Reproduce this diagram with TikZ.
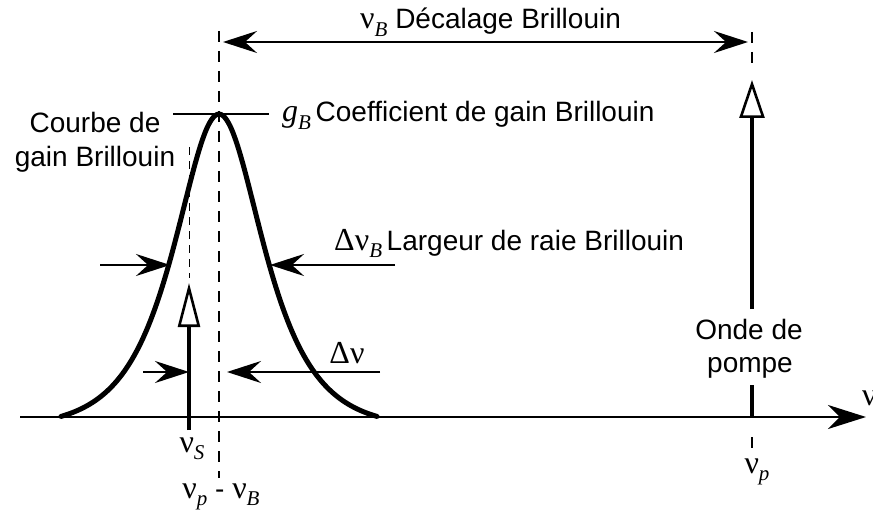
\RequirePackage{fix-cm}
\documentclass[tikz,border=0pt]{standalone}
\usepackage{fontspec}
\setmainfont{Liberation Sans}
\newfontfamily\grk{Liberation Serif}
\newcommand\grksym[1]{{\fontsize{32}{34}\selectfont\grk #1}}
\newcommand\symsub[2]{\grksym{#1}\raisebox{-0.26em}{\fontsize{21}{21}\selectfont\grk\itshape #2}}
\usetikzlibrary{arrows.meta}
\tikzset{
  lbl/.style={font=\fontsize{28}{34}\selectfont, inner sep=0pt},
  curveline/.style={line width=5pt, line join=round, line cap=round},
  axisline/.style={line width=2.8pt, -{Stealth[length=38pt,width=24pt,inset=12pt]}},
  guide/.style={line width=1.6pt, dash pattern=on 11pt off 9pt},
  fineguide/.style={line width=1pt, dash pattern=on 8pt off 6pt},
  tick/.style={line width=1.6pt},
  dimline/.style={line width=2.6pt},
  dimhead/.style={dimline, -{Stealth[length=34pt,width=22pt,inset=12pt]}},
  dimboth/.style={dimline, {Stealth[length=34pt,width=22pt,inset=12pt]}-{Stealth[length=34pt,width=22pt,inset=12pt]}},
  pumpwave/.style={line width=3.8pt, -{Triangle[open,length=38pt,width=25pt,line width=2.6pt,fill=white]}},
  stokeswave/.style={line width=3.4pt, -{Triangle[open,length=44pt,width=22pt,line width=2.6pt,fill=white]}},
  plainwave/.style={line width=3.8pt}
}
\begin{document}
\begin{tikzpicture}[x=1pt,y=-1pt]
\useasboundingbox (0,0) rectangle (873,516);
% coordinates
\coordinate (axL) at (20,417);
\coordinate (axR) at (866,417);
\coordinate (cTop) at (219,31);
\coordinate (cBot) at (219,478);
\coordinate (rTop) at (752,32);
\coordinate (rBot) at (752,72);
\coordinate (rTickT) at (752,437);
\coordinate (rTickB) at (752,448);
\coordinate (shiftL) at (223,42);
\coordinate (shiftR) at (748,42);
\coordinate (peakL) at (173,114);
\coordinate (peakR) at (269,114);
\coordinate (pumpBase) at (752,417);
\coordinate (pumpLow) at (752,385);
\coordinate (pumpMid) at (752,309);
\coordinate (pumpTop) at (752,80);
\coordinate (stBot) at (189,430);
\coordinate (stTop) at (189,283);
\coordinate (stDashT) at (189,147);
\coordinate (stDashB) at (189,278);
\coordinate (wbL0) at (100,265);
\coordinate (wbL1) at (170,265);
\coordinate (wbR0) at (395,265);
\coordinate (wbR1) at (270,265);
\coordinate (wL0) at (143,372);
\coordinate (wL1) at (189,372);
\coordinate (wR0) at (380,372);
\coordinate (wR1) at (227,372);

% axis
\draw[axisline] (axL) -- (axR);
% guides
\draw[guide] (cTop) -- (cBot);
\draw[guide] (rTop) -- (rBot);
\draw[tick] (rTickT) -- (rTickB);
\draw[fineguide] (stDashT) -- (stDashB);
% gain curve
\draw[curveline] plot[domain=-158:158, samples=161, smooth]
  ({219+\x}, {417-303*((1/cosh(\x/39.5))-0.0348)/0.9652});
\draw[dimline] (peakL) -- (peakR);
% Brillouin shift
\draw[dimboth] (shiftL) -- (shiftR);
% linewidth arrows
\draw[dimhead] (wbL0) -- (wbL1);
\draw[dimhead] (wbR0) -- (wbR1);
\draw[dimhead] (wL0) -- (wL1);
\draw[dimhead] (wR0) -- (wR1);
% Stokes wave
\draw[stokeswave] (stBot) -- (stTop);
% pump wave
\draw[plainwave] (pumpBase) -- (pumpLow);
\draw[pumpwave] (pumpMid) -- (pumpTop);

% labels
\node[lbl, anchor=base west] (tshift) at (360,29) {\symsub{ν}{B} Décalage Brillouin};
\node[lbl, anchor=base west] (tgain) at (282,122) {\symsub{\itshape g}{B}\,Coefficient de gain Brillouin};
\node[lbl, anchor=base] (tcourbe1) at (95,133) {Courbe de};
\node[lbl, anchor=base] (tcourbe2) at (95,167) {gain Brillouin};
\node[lbl, anchor=base west] (twidth) at (334,250) {\symsub{Δν}{B}\,Largeur de raie Brillouin};
\node[lbl, anchor=base] (tdnu) at (347,363) {\grksym{Δν}};
\node[lbl, anchor=base] (tnus) at (192,452) {\symsub{ν}{S}};
\node[lbl, anchor=base] (tnup) at (757,473) {\symsub{ν}{p}};
\node[lbl, anchor=base] (tnupb) at (221,498) {\symsub{ν}{p} - \symsub{ν}{B}};
\node[lbl, anchor=base] (tonde1) at (749,339) {Onde de};
\node[lbl, anchor=base] (tonde2) at (750,372) {pompe};
\node[lbl, anchor=base west] (tnu) at (862,405) {\grksym{ν}};
\end{tikzpicture}
\end{document}
